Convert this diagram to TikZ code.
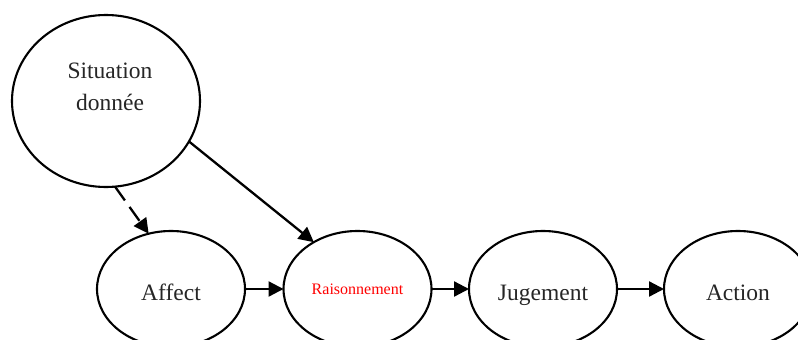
\documentclass[tikz,border=0pt]{standalone}
\usepackage{fontspec}
\setmainfont{Liberation Serif}
\usetikzlibrary{shapes.geometric,arrows.meta}
\begin{document}
\begin{tikzpicture}[x=1pt,y=-1pt,
  bubble/.style={ellipse,draw=black,line width=2.1pt,inner sep=0pt,outer sep=0pt,
    minimum width=148pt,minimum height=116pt},
  label/.style={font=\fontsize{23.5}{32}\selectfont,text=black!85,
    text height=22pt,text depth=0pt},
  flow/.style={line width=2.3pt,-{Triangle[length=15pt,width=15pt]}},
  hint/.style={flow,dash pattern=on 17pt off 8pt}]
  \useasboundingbox (0,0) rectangle (798,340);

  % starting situation
  \node[ellipse,draw=black,line width=2.1pt,inner sep=0pt,outer sep=0pt,
        minimum width=188pt,minimum height=172pt] (sit) at (106,101) {};
  \node[font=\fontsize{23.5}{32}\selectfont,text=black!85,align=center] (sittext)
        at (110,87) {Situation\\donnée};

  % chain of stages
  \node[bubble,label] (aff) at (171,289) {Affect};
  \node[bubble,font=\fontsize{16}{18}\selectfont,text=red,
        text height=10pt,text depth=0pt] (rai) at (357.5,289) {Raisonnement};
  \node[bubble,label] (jug) at (543,289) {Jugement};
  \node[bubble,label] (act) at (738,289) {Action};

  % links
  \draw[hint] (sit.-84) -- (aff.112);
  \draw[flow] (sit.-26) -- (rai.133.5);
  \draw[flow] (aff.east) -- (rai.west);
  \draw[flow] (rai.east) -- (jug.west);
  \draw[flow] (jug.east) -- (act.west);
\end{tikzpicture}
\end{document}
